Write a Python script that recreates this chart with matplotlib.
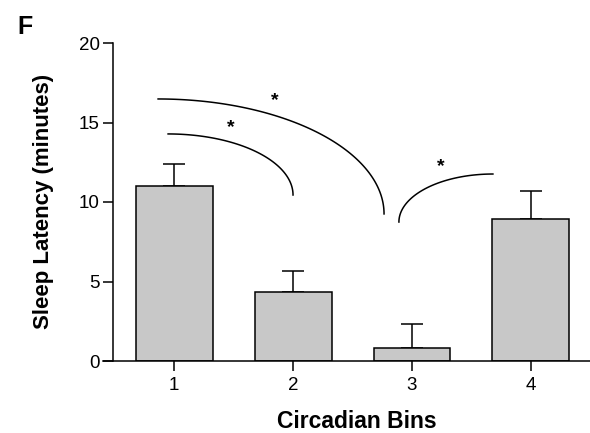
import numpy as np
import matplotlib
matplotlib.use("Agg")
import matplotlib.pyplot as plt

# ---- data ----
bins = [1, 2, 3, 4]
bin_labels = ["1", "2", "3", "4"]
latency = [11.0, 4.36, 0.84, 8.93]
sem = [1.39, 1.30, 1.49, 1.76]
yticks = [0, 5, 10, 15, 20]

# significance arcs: [x_start, y_start, x_end, y_end]
arc_inner = [0.95, 14.28, 2.0, 10.44]
arc_outer = [0.866, 16.48, 2.765, 9.25]
arc_right = [2.89, 8.74, 3.68, 11.76]
star_x = [1.48, 1.85, 3.24]
star_y = [14.7, 16.4, 12.2]

tick_font = ["Liberation Sans", "DejaVu Sans"]
label_font = ["Liberation Sans", "DejaVu Sans"]

W, H = 590, 433
fig = plt.figure(figsize=(W / 100, H / 100), dpi=100)
ax = fig.add_axes([113 / W, (H - 361) / H, (590 - 113) / W, (361 - 43) / H])

ax.bar(bins, latency, width=0.647, color="#c8c8c8", edgecolor="black",
       linewidth=1.1, zorder=2)
ax.errorbar(bins, latency, yerr=[np.zeros(len(sem)), sem], fmt="none",
            ecolor="black", elinewidth=1.1, capsize=8, capthick=1.1, zorder=1)

ax.set_xlim(0.487, 4.496)
ax.set_ylim(0, 20)
ax.set_xticks(bins)
ax.set_xticklabels(bin_labels)
ax.set_yticks(yticks)
ax.set_yticklabels([str(v) for v in yticks])
for lab in ax.get_xticklabels() + ax.get_yticklabels():
    lab.set_family(tick_font)
    lab.set_fontsize(13.5)
ax.tick_params(axis="both", length=7.5, width=1.1, color="black")
ax.tick_params(axis="y", pad=2)
ax.tick_params(axis="x", pad=4)
for s in ["top", "right"]:
    ax.spines[s].set_visible(False)
for s in ["left", "bottom"]:
    ax.spines[s].set_linewidth(1.1)
ax.spines["bottom"].set_bounds(0.487 - 10 / 119, 4.496)
ax.spines["bottom"].set_clip_on(False)


def quarter(arc, t0, t1, cx, cy):
    x0, y0, x1, y1 = arc
    a = abs(x1 - x0)
    b = abs(y1 - y0)
    t = np.linspace(np.radians(t0), np.radians(t1), 100)
    return cx + a * np.cos(t), cy + b * np.sin(t)


xs, ys = quarter(arc_inner, 90, 0, arc_inner[0], arc_inner[3])
ax.plot(xs, ys, color="black", lw=1.1, clip_on=False)
xs, ys = quarter(arc_outer, 90, 0, arc_outer[0], arc_outer[3])
ax.plot(xs, ys, color="black", lw=1.1, clip_on=False)
xs, ys = quarter(arc_right, 180, 90, arc_right[2], arc_right[1])
ax.plot(xs, ys, color="black", lw=1.1, clip_on=False)

for sx, sy in zip(star_x, star_y):
    ax.text(sx, sy, "*", ha="center", va="center", fontsize=14,
            fontweight="bold", family=label_font)

fig.text(44 / W, 1 - 201 / H, "Sleep Latency (minutes)", rotation=90,
         ha="center", va="center", fontsize=16, fontweight="bold",
         family=label_font)
fig.text(357 / W, 1 - 422 / H, "Circadian Bins", ha="center", va="center",
         fontsize=16.5, fontweight="bold", family=label_font)
fig.text(17 / W, 1 - 15 / H, "F", ha="left", va="top", fontsize=18,
         fontweight="bold", family=label_font)

fig.savefig("out.png", dpi=100)
